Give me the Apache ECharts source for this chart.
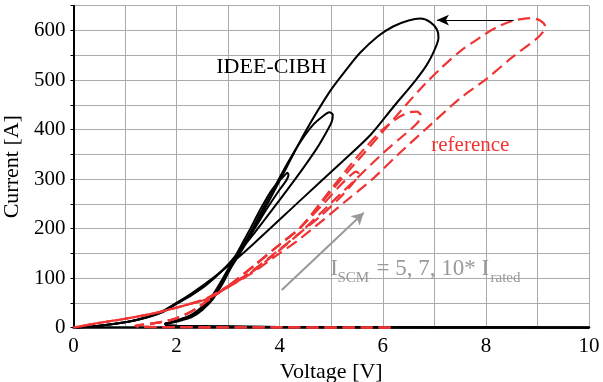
<!DOCTYPE html>
<html>
<head>
<meta charset="utf-8">
<script src="https://cdn.jsdelivr.net/npm/echarts@6/dist/echarts.min.js"></script>
<style>
  html, body { margin: 0; padding: 0; background: #fff; }
  #main { width: 603px; height: 382px; }
</style>
</head>
<body>
<div id="main"></div>
<script>
// tick labels
var xTicks = [0, 2, 4, 6, 8, 10];
var yTicks = [0, 100, 200, 300, 400, 500, 600];

// IDEE-CIBH loops, [voltage V, current A]
var ideeLow = [[10,0],[7,0.5],[4,1.5],[2.6,3],[2.0,4],[1.8,5],[1.78,8],[1.9,11],[2.1,18],[2.3,27],[2.5,43],[2.7,66],[2.9,100],[3.04,126],[3.2,156],[3.4,194],[3.6,234],[3.82,274],[4.0,298],[4.1,308],[4.15,313],[4.17,308],[4.12,296],[3.98,276],[3.75,240],[3.45,190],[3.04,132],[2.6,88],[2.3,66],[2.0,48],[1.7,30],[1.4,20],[1.06,12],[0.5,4],[0,0]];
var ideeMid = [[10,0],[7,0.5],[4,1.5],[2.6,3],[2.0,4],[1.8,5],[1.78,8],[1.9,11],[2.1,17],[2.3,25],[2.5,40],[2.7,62],[2.9,95],[3.04,122],[3.2,150],[3.4,186],[3.6,226],[3.82,268],[4.14,330],[4.4,375],[4.65,410],[4.85,428],[4.96,435],[5.03,430],[5.01,416],[4.88,390],[4.72,362],[4.4,314],[4.0,258],[3.5,190],[3.04,132],[2.6,90],[2.3,68],[2.0,50],[1.7,32],[1.4,20],[1.06,12],[0.5,4],[0,0]];
var ideeHigh = [[10,0],[7,0.5],[4,1.5],[2.6,3],[2.0,4],[1.8,5],[1.78,8],[1.9,10],[2.1,15],[2.3,22],[2.5,36],[2.7,57],[2.9,90],[3.04,118],[3.2,145],[3.4,180],[3.6,219],[3.82,261],[4.14,325],[4.5,396],[4.98,478],[5.3,522],[5.56,555],[5.9,588],[6.2,608],[6.5,620],[6.73,624],[6.92,617],[7.05,602],[7.08,586],[7.0,560],[6.85,530],[6.64,500],[6.2,445],[5.76,389],[5.18,332],[4.4,257],[3.5,170],[3.04,128],[2.6,92],[2.3,70],[2.0,50],[1.7,32],[1.4,21],[1.06,12],[0.5,4],[0,0]];

// reference loops
var refLow = [[6.15,0],[4,0.5],[2,1],[1.3,2],[1.2,4],[1.5,8],[1.9,16],[2.2,28],[2.4,40],[2.59,54],[3.0,84],[3.5,125],[4.0,168],[4.4,202],[4.9,256],[5.2,290],[5.38,308],[5.48,315],[5.53,311],[5.47,298],[5.2,266],[4.8,226],[4.4,192],[3.9,150],[3.43,112],[2.9,78],[2.59,60],[2.26,48],[1.6,30],[1.0,18],[0.4,8],[0,0]];
var refMid = [[6.15,0],[4,0.5],[2,1],[1.3,2],[1.2,4],[1.5,8],[1.9,16],[2.2,28],[2.4,40],[2.59,54],[3.0,84],[3.5,125],[4.0,168],[4.4,202],[5.0,280],[5.37,328],[5.7,368],[6.02,402],[6.3,424],[6.52,435],[6.66,436],[6.74,428],[6.66,412],[6.4,388],[6.0,352],[5.4,292],[4.8,232],[4.4,192],[3.9,148],[3.43,110],[2.9,76],[2.59,58],[2.26,48],[1.6,30],[1.0,18],[0.4,8],[0,0]];
var refHigh = [[6.15,0],[4,0.5],[2,1],[1.3,2],[1.2,4],[1.5,8],[1.9,16],[2.2,28],[2.4,40],[2.59,54],[3.0,84],[3.5,125],[4.0,168],[4.4,202],[5.0,276],[5.5,336],[5.95,390],[6.47,452],[6.8,490],[7.12,523],[7.5,558],[7.89,586],[8.2,606],[8.51,619],[8.87,625],[9.05,620],[9.15,608],[9.1,596],[8.99,584],[8.5,545],[8.02,503],[7.5,463],[6.92,409],[6.3,350],[5.8,300],[5.3,257],[4.4,180],[3.9,143],[3.43,108],[2.9,76],[2.59,58],[2.26,48],[1.6,30],[1.0,18],[0.4,8],[0,0]];

// arrows
var arrowPeak = [[8.54, 621], [7.05, 621]];
var arrowScm = [[4.04, 76], [5.63, 232]];

var RED = '#f03434';
var GRAY = '#999999';
var FONT = 'Liberation Serif';

var chart = echarts.init(document.getElementById('main'));

function blackLine(name, data) {
  return {
    name: name, type: 'line', data: data,
    showSymbol: false, smooth: 0.3, silent: true,
    lineStyle: { color: '#000', width: 2 }
  };
}
function redLine(name, data) {
  return {
    name: name, type: 'line', data: data,
    showSymbol: false, smooth: 0.3, silent: true,
    lineStyle: { color: RED, width: 2.2, type: [12, 6] }
  };
}

var series = [
  blackLine('IDEE 5x', ideeLow),
  blackLine('IDEE 7x', ideeMid),
  blackLine('IDEE 10x', ideeHigh),
  redLine('ref 5x', refLow),
  redLine('ref 7x', refMid),
  redLine('ref 10x', refHigh)
];

// arrows are carried by an empty series
series.push({
  type: 'line', data: [], silent: true,
  markLine: {
    silent: true, animation: false,
    label: { show: false },
    data: [
      [{ coord: arrowPeak[0], symbol: 'none', lineStyle: { color: '#000', width: 1 } },
       { coord: arrowPeak[1], symbol: 'arrow', symbolSize: [8, 12] }],
      [{ coord: arrowScm[0], symbol: 'none', lineStyle: { color: GRAY, width: 2 } },
       { coord: arrowScm[1], symbol: 'arrow', symbolSize: [10, 12] }]
    ],
    lineStyle: { type: 'solid' }
  }
});

chart.setOption({
  animation: false,
  backgroundColor: '#fff',
  grid: { left: 73.5, right: 14, top: 5.7, bottom: 54.3, outerBoundsMode: 'none', containLabel: false },
  xAxis: {
    type: 'value', min: 0, max: 10, interval: 1,
    name: 'Voltage [V]', nameLocation: 'middle', nameGap: 25,
    nameTextStyle: { fontFamily: FONT, fontSize: 22, color: '#000' },
    axisLine: { lineStyle: { color: '#000', width: 2.5 } },
    axisTick: { show: false },
    axisLabel: {
      margin: 8, fontFamily: FONT, fontSize: 21, color: '#000',
      formatter: function (v) { return xTicks.indexOf(v) >= 0 ? String(v) : ''; }
    },
    splitLine: { show: true, lineStyle: { color: '#aaa', width: 1 } }
  },
  yAxis: {
    type: 'value', min: 0, max: 650, interval: 50,
    name: 'Current [A]', nameLocation: 'middle', nameGap: 45,
    nameTextStyle: { fontFamily: FONT, fontSize: 22, color: '#000' },
    axisLine: { show: true, lineStyle: { color: '#000', width: 2 } },
    axisTick: { show: true, length: 3, lineStyle: { color: '#000' } },
    axisLabel: {
      margin: 8, fontFamily: FONT, fontSize: 21, color: '#000',
      formatter: function (v) { return yTicks.indexOf(v) >= 0 ? String(v) : ''; }
    },
    splitLine: { show: true, lineStyle: { color: '#aaa', width: 1 } }
  },
  series: series
});

// annotation texts, placed in data coordinates
var notes = [
  { text: 'IDEE-CIBH', at: [2.77, 526], size: 22, color: '#000' },
  { text: 'reference', at: [6.94, 367], size: 21, color: RED },
  { text: 'I', at: [4.98, 118], size: 23, color: GRAY },
  { text: 'SCM', at: [5.12, 101], size: 15, color: GRAY },
  { text: '= 5, 7, 10* I', at: [5.88, 118], size: 23, color: GRAY },
  { text: 'rated', at: [8.09, 100], size: 15, color: GRAY }
];

var graphic = notes.map(function (n) {
  var p = chart.convertToPixel({ gridIndex: 0 }, n.at);
  return {
    type: 'text', silent: true, z: 100,
    style: {
      x: p[0], y: p[1], text: n.text,
      font: n.size + 'px "' + FONT + '"',
      fill: n.color, textAlign: 'left', textVerticalAlign: 'middle'
    }
  };
});
chart.setOption({ graphic: graphic });
</script>
</body>
</html>
